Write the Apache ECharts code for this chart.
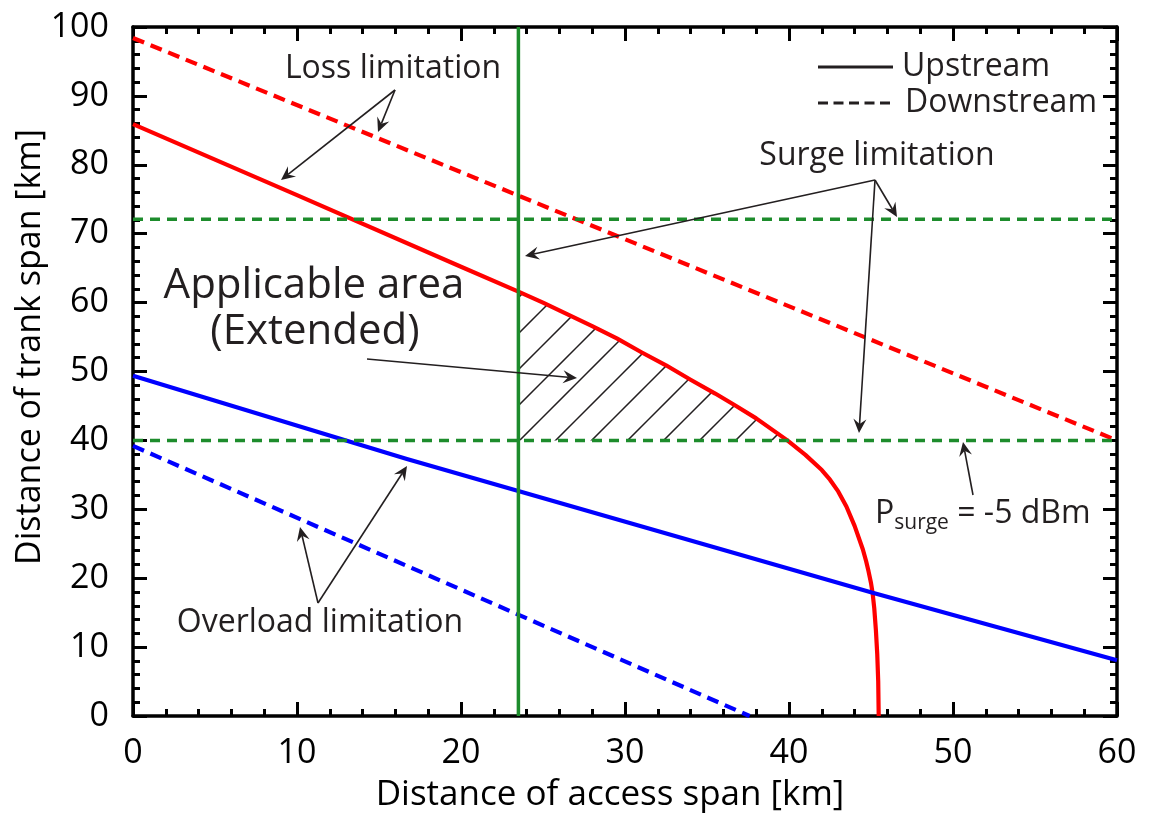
<!DOCTYPE html>
<html>
<head>
<meta charset="utf-8">
<script src="https://cdn.jsdelivr.net/npm/echarts@6/dist/echarts.min.js"></script>
<style>
html,body{margin:0;padding:0;background:#fff;}
#chart{width:1150px;height:819px;}
</style>
</head>
<body>
<div id="chart"></div>
<script>
// ---------- DATA ----------
const xTicks = [0, 10, 20, 30, 40, 50, 60];
const yTicks = [0, 10, 20, 30, 40, 50, 60, 70, 80, 90, 100];
const legendNames = ['Upstream', 'Downstream'];

// Upstream loss limitation (red solid)
const upLossX = [0, 10, 20, 23.5, 25, 26.5, 28, 29.5, 31, 32.5, 34, 35.5, 36.7, 38, 39.9, 41, 42, 42.5, 43, 43.5, 44, 44.5, 44.7, 44.85, 45.0, 45.1, 45.2, 45.3, 45.38, 45.44, 45.47];
const upLossY = [85.9, 75.6, 65.2, 61.6, 60.0, 58.3, 56.6, 54.8, 52.8, 50.9, 48.8, 46.8, 45.1, 43.2, 40.0, 37.9, 35.7, 34.3, 32.6, 30.4, 27.6, 24.2, 22.5, 21.0, 19.3, 17.8, 15.6, 12.4, 9.0, 5.0, 0];
// Downstream loss limitation (red dashed)
const downLossX = [0, 60];
const downLossY = [98.4, 40.0];
// Upstream overload limitation (blue solid)
const upOverX = [0, 16.7, 45.1, 60];
const upOverY = [49.4, 37.3, 17.9, 8.1];
// Downstream overload limitation (blue dashed)
const downOverX = [0, 37.6];
const downOverY = [39.2, 0];
// Surge limitation
const surgeAccessX = 23.5;   // vertical green line
const surgeTrunkHigh = 72.1; // upper green dashed
const surgeTrunkLow = 40.0;  // lower green dashed (Psurge = -5 dBm)

const FONT = '"Open Sans", "Noto Sans", sans-serif';
const INK = '#231f20';
const RED = '#ff0000', BLUE = '#0000ff', GREEN = '#1d8c2c';

function pairs(xs, ys){ return xs.map((x,i)=>[x, ys[i]]); }

// hatch pattern
const tile = document.createElement('canvas');
tile.width = 36; tile.height = 36;
(function(){
  const c = tile.getContext('2d');
  c.strokeStyle = INK; c.lineWidth = 1.5;
  c.beginPath();
  c.moveTo(-2, 26); c.lineTo(26, -2);
  c.moveTo(22, 38); c.lineTo(38, 22);
  c.stroke();
})();

const chart = echarts.init(document.getElementById('chart'), null, {renderer:'canvas'});

const axisCommon = {
  type: 'value',
  axisLine: {show: true, onZero: false, lineStyle: {color: '#000', width: 3.5}},
  axisTick: {show: true, inside: true, length: 14, lineStyle: {color: '#000', width: 3}},
  minorTick: {show: true, splitNumber: 5, length: 7, lineStyle: {color: '#000', width: 3}},
  splitLine: {show: false},
  minorSplitLine: {show: false}
};

const lineSeries = (name, xs, ys, color, dash, w) => ({
  type: 'line', name: name, data: pairs(xs, ys), symbol: 'none', silent: true,
  lineStyle: {color: color, width: w || 4, type: dash || 'solid', cap: 'butt', join: 'round'},
  z: 5, clip: true
});

const option = {
  animation: false,
  backgroundColor: '#fff',
  grid: {left: 133, right: 33, top: 27, bottom: 103, containLabel: false},
  xAxis: [
    Object.assign({}, axisCommon, {position: 'bottom', min: 0, max: 60, interval: 10,
      axisLabel: {show: true, fontFamily: FONT, fontSize: 34, color: '#000', margin: 20,
        formatter: v => xTicks.includes(v) ? String(v) : ''}}),
    Object.assign({}, axisCommon, {position: 'top', min: 0, max: 60, interval: 10, axisLabel: {show: false}})
  ],
  yAxis: [
    Object.assign({}, axisCommon, {position: 'left', min: 0, max: 100, interval: 10,
      axisLabel: {show: true, fontFamily: FONT, fontSize: 34, color: '#000', margin: 24,
        formatter: v => yTicks.includes(v) ? String(v) : ''}}),
    Object.assign({}, axisCommon, {position: 'right', min: 0, max: 100, interval: 10, axisLabel: {show: false}})
  ],
  series: [
    // hatched applicable area
    {
      type: 'custom', silent: true, z: 2, clip: true,
      data: [[surgeAccessX, surgeTrunkLow]],
      renderItem: function(params, api){
        const pts = [[surgeAccessX, surgeTrunkLow]];
        upLossX.forEach((x, i) => {
          if (x >= surgeAccessX && upLossY[i] >= surgeTrunkLow) pts.push([x, upLossY[i]]);
        });
        return {type: 'polygon', shape: {points: pts.map(p => api.coord(p))},
          style: {fill: {image: tile, repeat: 'repeat'}, stroke: 'none'}};
      }
    },
    lineSeries('upLoss', upLossX, upLossY, RED, null, 4.2),
    lineSeries('downLoss', downLossX, downLossY, RED, [12, 7], 4.2),
    lineSeries('upOver', upOverX, upOverY, BLUE, null, 4.2),
    lineSeries('downOver', downOverX, downOverY, BLUE, [12, 7], 4.2),
    lineSeries('surgeV', [surgeAccessX, surgeAccessX], [0, 100], GREEN, null, 3.5),
    lineSeries('surgeH1', [0, 60], [surgeTrunkHigh, surgeTrunkHigh], GREEN, [10, 7], 3.5),
    lineSeries('surgeH2', [0, 60], [surgeTrunkLow, surgeTrunkLow], GREEN, [10, 7], 3.5)
  ]
};

// ---------- annotations (pixel layout) ----------
function arrow(x1, y1, x2, y2){
  const dx = x2 - x1, dy = y2 - y1, len = Math.hypot(dx, dy);
  const ux = dx/len, uy = dy/len, nx = -uy, ny = ux;
  const L = 14, W = 6.5, N = 9;
  return [
    {type: 'line', shape: {x1: x1, y1: y1, x2: x2 - ux*N, y2: y2 - uy*N}, style: {stroke: INK, lineWidth: 1.6}, z: 20},
    {type: 'polygon', shape: {points: [
      [x2, y2],
      [x2 - ux*L + nx*W, y2 - uy*L + ny*W],
      [x2 - ux*N, y2 - uy*N],
      [x2 - ux*L - nx*W, y2 - uy*L - ny*W]
    ]}, style: {fill: INK}, z: 20}
  ];
}
function label(text, x, y, size, align){
  return {type: 'text', x: x, y: y, z: 20, style: {text: text, fontFamily: FONT, fontSize: size, fill: INK,
    textAlign: align || 'center', textVerticalAlign: 'middle'}};
}

const graphics = [
  // axis titles
  {type: 'text', x: 30, y: 347, rotation: Math.PI/2, z: 20, style: {text: 'Distance of trank span [km]', fontFamily: FONT, fontSize: 34, fill: '#000', textAlign: 'center', textVerticalAlign: 'middle'}},
  {type: 'text', x: 610, y: 795, z: 20, style: {text: 'Distance of access span [km]', fontFamily: FONT, fontSize: 35, fill: '#000', textAlign: 'center', textVerticalAlign: 'middle'}},
  // legend
  {type: 'line', shape: {x1: 818, y1: 67, x2: 893, y2: 67}, style: {stroke: INK, lineWidth: 3}, z: 20},
  {type: 'line', shape: {x1: 818, y1: 103, x2: 893, y2: 103}, style: {stroke: INK, lineWidth: 3, lineDash: [10, 5.5]}, z: 20},
  label(legendNames[0], 902, 67, 32, 'left'),
  label(legendNames[1], 905, 103, 32, 'left'),
  // annotation labels
  label('Loss limitation', 393, 69, 32),
  label('Surge limitation', 877, 156, 32),
  label('Overload limitation', 320, 623, 32),
  label('Applicable area', 314, 286, 42),
  label('(Extended)', 315, 332, 42),
  {type: 'text', x: 875, y: 512, z: 20, style: {
    text: '{a|P}{b|surge}{a| = -5 dBm}', textAlign: 'left', textVerticalAlign: 'middle',
    rich: {
      a: {fontFamily: FONT, fontSize: 32, fill: INK, verticalAlign: 'bottom', lineHeight: 36},
      b: {fontFamily: FONT, fontSize: 21, fill: INK, verticalAlign: 'bottom', lineHeight: 36, padding: [0,0,-4,0]}
    }}}
]
.concat(arrow(395, 90, 281, 180))
.concat(arrow(395, 90, 378, 132))
.concat(arrow(875, 180, 525, 256))
.concat(arrow(875, 180, 897, 217))
.concat(arrow(875, 180, 859, 433))
.concat(arrow(367, 359, 577, 378))
.concat(arrow(973, 495, 963, 442))
.concat(arrow(318, 603, 300, 527))
.concat(arrow(318, 603, 407, 466));

option.graphic = graphics;
chart.setOption(option);
</script>
</body>
</html>
